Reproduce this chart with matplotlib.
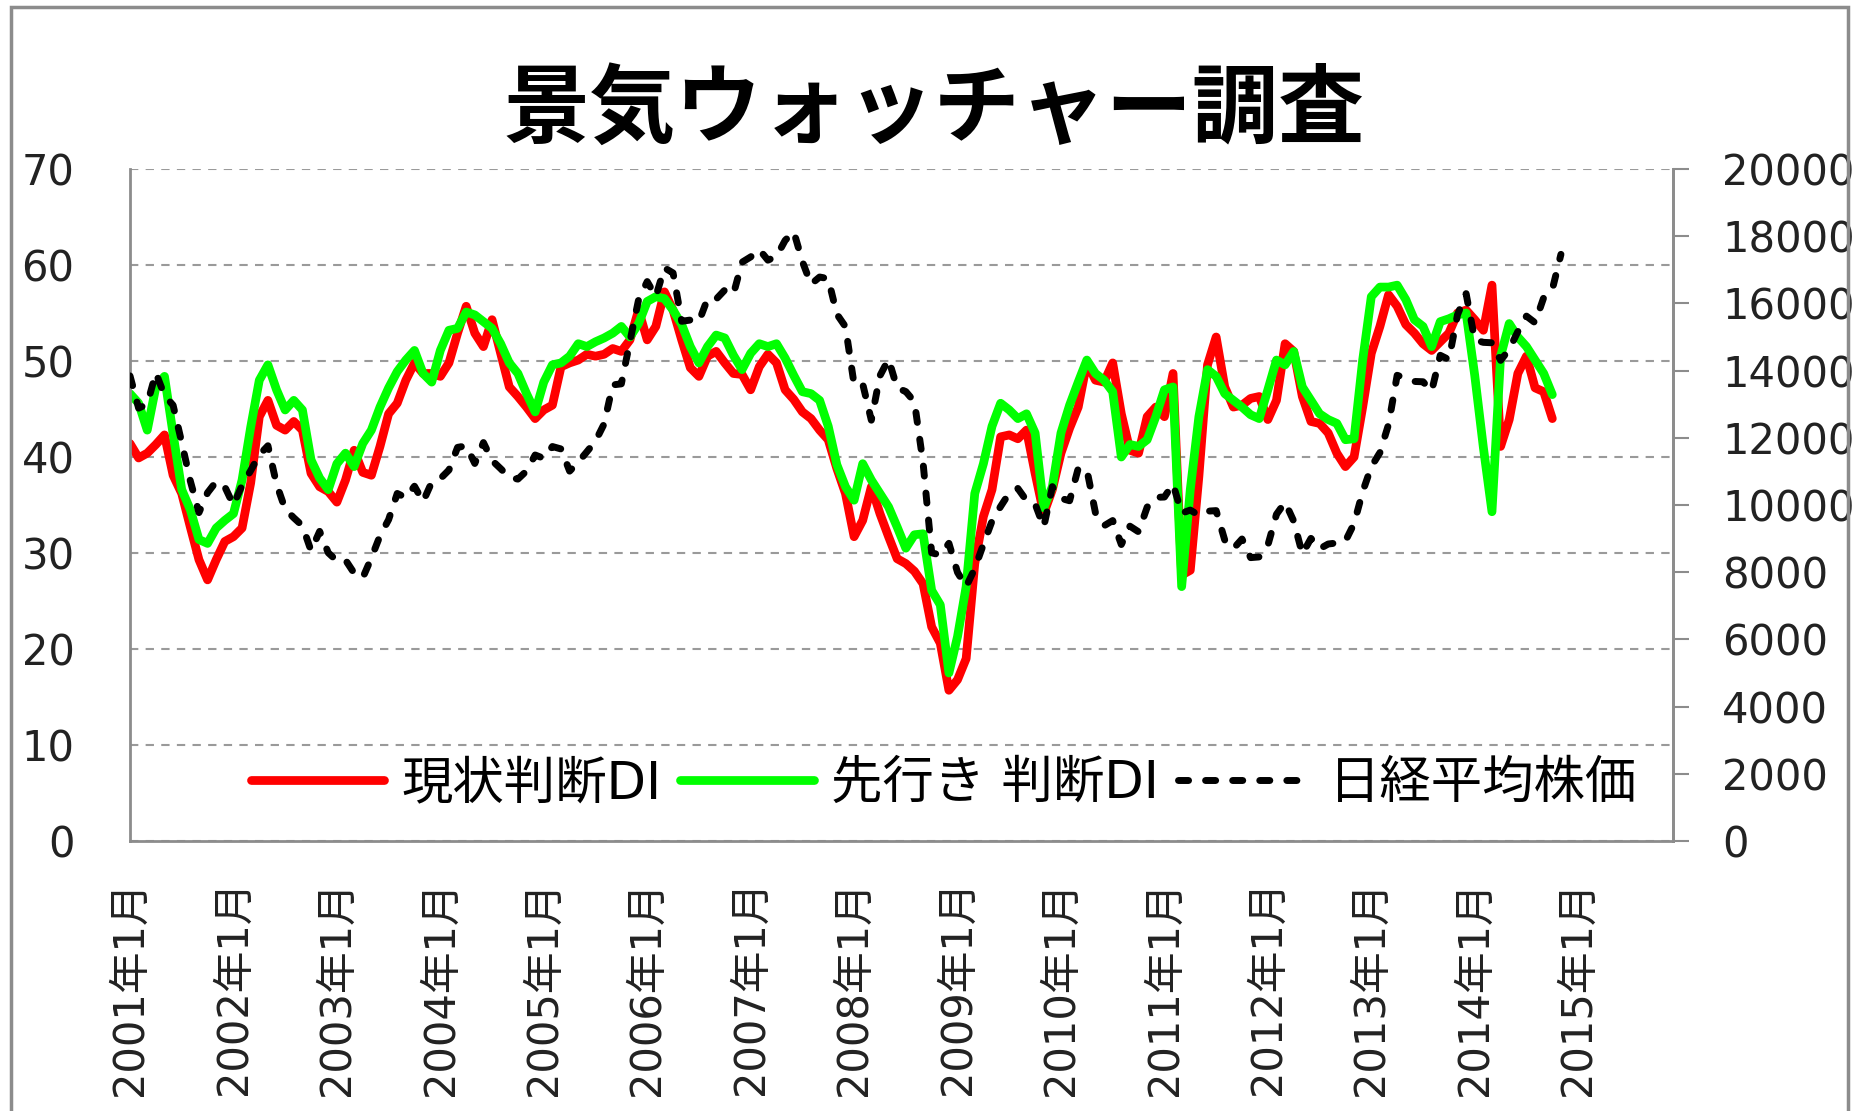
import numpy as np
import matplotlib
matplotlib.use('Agg')
import matplotlib.pyplot as plt
from matplotlib.patches import Rectangle

plt.rcParams['font.family'] = ['DejaVu Sans', 'Noto Sans CJK JP']

# 現状判断DI (2001年1月 - 2014年10月, 月次)
genjo = [
    41.4, 39.9, 40.4, 41.3, 42.3, 38.1, 36.2, 32.7, 29.3, 27.2, 29.3, 31.2,
    31.7, 32.6, 37.3, 44.2, 45.9, 43.3, 42.8, 43.7, 42.8, 38.3, 36.9, 36.4,
    35.3, 37.6, 40.7, 38.4, 38.1, 41.1, 44.5, 45.6, 48.0, 49.8, 48.7, 48.7,
    48.4, 49.8, 52.9, 55.7, 52.9, 51.5, 54.3, 50.8, 47.3, 46.3, 45.2, 44.0,
    44.9, 45.4, 49.4, 49.8, 50.1, 50.7, 50.5, 50.7, 51.3, 51.0, 52.2, 55.3,
    52.2, 53.6, 57.2, 55.3, 52.2, 49.3, 48.4, 50.5, 51.0, 49.8, 48.7, 48.6,
    47.0, 49.4, 50.7, 49.8, 47.0, 46.0, 44.7, 44.0, 42.8, 41.8, 38.8, 36.2,
    31.7, 33.4, 36.9, 34.1, 31.7, 29.4, 28.9, 28.1, 26.8, 22.3, 20.6, 15.7,
    16.8, 19.0, 28.9, 33.8, 36.6, 42.1, 42.3, 41.9, 42.8, 38.3, 34.1, 36.6,
    40.4, 43.0, 45.2, 49.8, 48.0, 47.8, 49.8, 44.5, 40.7, 40.4, 44.2, 45.2,
    44.2, 48.7, 27.7, 28.2, 38.0, 49.6, 52.5, 47.3, 45.2, 45.4, 46.1, 46.3,
    43.9, 45.9, 51.8, 51.0, 46.3, 43.7, 43.5, 42.5, 40.4, 39.0, 40.0, 45.2,
    50.8, 53.6, 56.9, 55.7, 53.8, 52.9, 51.8, 51.1, 52.0, 52.9, 55.0, 55.3,
    54.3, 53.2, 57.9, 41.1, 43.9, 48.7, 50.5, 47.2, 46.8, 44.0,
]

# 先行き判断DI
sakiyuki = [
    46.6, 45.6, 42.8, 47.3, 48.4, 42.4, 36.6, 34.5, 31.4, 31.0, 32.6, 33.4,
    34.1, 37.6, 43.1, 48.0, 49.6, 47.0, 44.9, 45.9, 44.9, 39.7, 37.8, 36.6,
    39.3, 40.4, 39.0, 41.4, 42.8, 45.2, 47.2, 48.9, 50.1, 51.1, 48.7, 47.8,
    51.1, 53.2, 53.4, 55.1, 54.8, 54.1, 53.4, 51.8, 49.8, 48.7, 46.6, 44.7,
    47.8, 49.6, 49.8, 50.5, 51.8, 51.5, 52.0, 52.4, 52.9, 53.6, 52.5, 53.9,
    56.2, 56.7, 56.5, 55.3, 53.8, 51.5, 49.8, 51.5, 52.7, 52.4, 50.6, 49.1,
    50.8, 51.8, 51.5, 51.8, 50.3, 48.5, 46.8, 46.6, 45.9, 43.2, 39.2, 36.9,
    35.5, 39.3, 37.6, 36.2, 34.8, 32.7, 30.5, 31.9, 32.0, 26.1, 24.6, 17.5,
    21.3, 26.5, 36.2, 39.3, 43.2, 45.6, 44.9, 44.0, 44.5, 42.5, 34.7, 36.9,
    42.5, 45.4, 47.8, 50.1, 48.7, 48.0, 46.8, 40.0, 41.3, 41.1, 41.8, 44.2,
    47.0, 47.3, 26.5, 36.6, 44.2, 49.1, 48.4, 46.6, 45.9, 45.2, 44.4, 44.0,
    47.0, 50.1, 49.6, 51.0, 47.3, 45.9, 44.5, 43.9, 43.5, 41.8, 41.9, 50.1,
    56.7, 57.7, 57.7, 57.9, 56.4, 54.3, 53.6, 51.5, 54.1, 54.4, 54.8, 55.0,
    48.5, 41.0, 34.3, 50.5, 53.9, 52.5, 51.5, 50.1, 48.7, 46.5,
]

# 日経平均株価 月末終値 (2001年1月 - 2014年11月)
nikkei = [
    13843, 12883, 12999, 13934, 13262, 12969, 11860, 10713, 9774, 10366, 10697, 10542,
    9997, 10587, 11024, 11492, 11763, 10621, 9877, 9619, 9383, 8640, 9215, 8578,
    8339, 8363, 7972, 7831, 8424, 9083, 9563, 10343, 10219, 10559, 10100, 10676,
    10783, 11041, 11715, 11761, 11236, 11858, 11325, 11081, 10823, 10771, 11013, 11488,
    11387, 11740, 11668, 11008, 11276, 11584, 11899, 12413, 13574, 13606, 14872, 16111,
    16649, 16205, 17059, 16906, 15467, 15505, 15456, 16140, 16127, 16399, 16274, 17225,
    17383, 17604, 17287, 17400, 17875, 18138, 17248, 16569, 16785, 16737, 15680, 15307,
    13592, 13603, 12525, 13849, 14338, 13481, 13376, 13072, 11259, 8576, 8512, 8859,
    7994, 7568, 8109, 8828, 9522, 9958, 10356, 10492, 10133, 10034, 9345, 10546,
    10198, 10126, 11089, 11057, 9768, 9382, 9537, 8824, 9369, 9202, 9937, 10228,
    10237, 10624, 9755, 9849, 9693, 9816, 9833, 8955, 8700, 8988, 8434, 8455,
    8802, 9723, 10083, 9520, 8542, 9006, 8695, 8839, 8870, 8928, 9446, 10395,
    11138, 11559, 12397, 13860, 13774, 13677, 13668, 13388, 14455, 14327, 15662, 16291,
    14914, 14841, 14828, 14304, 14632, 15162, 15621, 15425, 16173, 16414, 17460,
]

years = list(range(2001, 2016))
tick_labels = [f'{y}年1月' for y in years]
n_months = 180  # 2001年1月 - 2015年12月

fig = plt.figure(figsize=(18.62, 11.11), dpi=100)
ax = fig.add_axes([130 / 1862, 1 - 841 / 1111, 1543 / 1862, 672 / 1111])

gray = '#8c8c8c'
ax.plot(np.arange(len(genjo)), genjo, color='#ff0000', lw=6.3,
        solid_joinstyle='round', solid_capstyle='round', label='現状判断DI')
ax.plot(np.arange(len(sakiyuki)), sakiyuki, color='#00ff00', lw=6.3,
        solid_joinstyle='round', solid_capstyle='round', label='先行き 判断DI')

ax.set_xlim(0, n_months - 1)
ax.set_ylim(0, 70)
ax.set_yticks(range(0, 71, 10))
ax.set_xticks(range(0, n_months, 12))
ax.set_xticklabels(tick_labels, rotation=90, va='top', ha='center')
ax.yaxis.grid(True, color='#9a9a9a', lw=1.5, linestyle=(0, (4, 3.5)))
ax.set_axisbelow(True)
ax.tick_params(axis='y', length=0, pad=40, labelsize=30, labelcolor='#222222')
ax.tick_params(axis='x', length=0, pad=28, labelsize=30, labelcolor='#222222')
ax.spines['top'].set_visible(False)
for s in ['left', 'bottom', 'right']:
    ax.spines[s].set_color(gray)
    ax.spines[s].set_linewidth(2)

ax2 = ax.twinx()
ax2.plot(np.arange(len(nikkei)), nikkei, color='black', lw=5,
         linestyle=(0, (1.45, 2.45)), dash_capstyle='round', label='日経平均株価')
ax2.set_ylim(0, 20000)
ax2.set_yticks(range(0, 20001, 2000))
ax2.tick_params(axis='y', length=11.5, width=1.5, color=gray, pad=24,
                labelsize=30, labelcolor='#222222')
for s in ['left', 'bottom', 'top']:
    ax2.spines[s].set_visible(False)
ax2.spines['right'].set_color(gray)
ax2.spines['right'].set_linewidth(2)

h1, l1 = ax.get_legend_handles_labels()
h2, l2 = ax2.get_legend_handles_labels()
ax2.legend(h1 + h2, l1 + l2, ncol=3, loc='center', bbox_to_anchor=(0.5275, 0.085),
           frameon=False, fontsize=37, handlelength=2.6, handletextpad=0.34,
           columnspacing=0.36, borderpad=0)

fig.text(934 / 1862, 1 - 112 / 1111, '景気ウォッチャー調査', fontsize=62,
         fontweight='bold', ha='center', va='center')

fig.patches.append(Rectangle((11 / 1862, -0.02), 1837 / 1862, 1.014,
                             transform=fig.transFigure, fill=False,
                             edgecolor=gray, lw=2.5))

fig.savefig('out.png', dpi=100)
